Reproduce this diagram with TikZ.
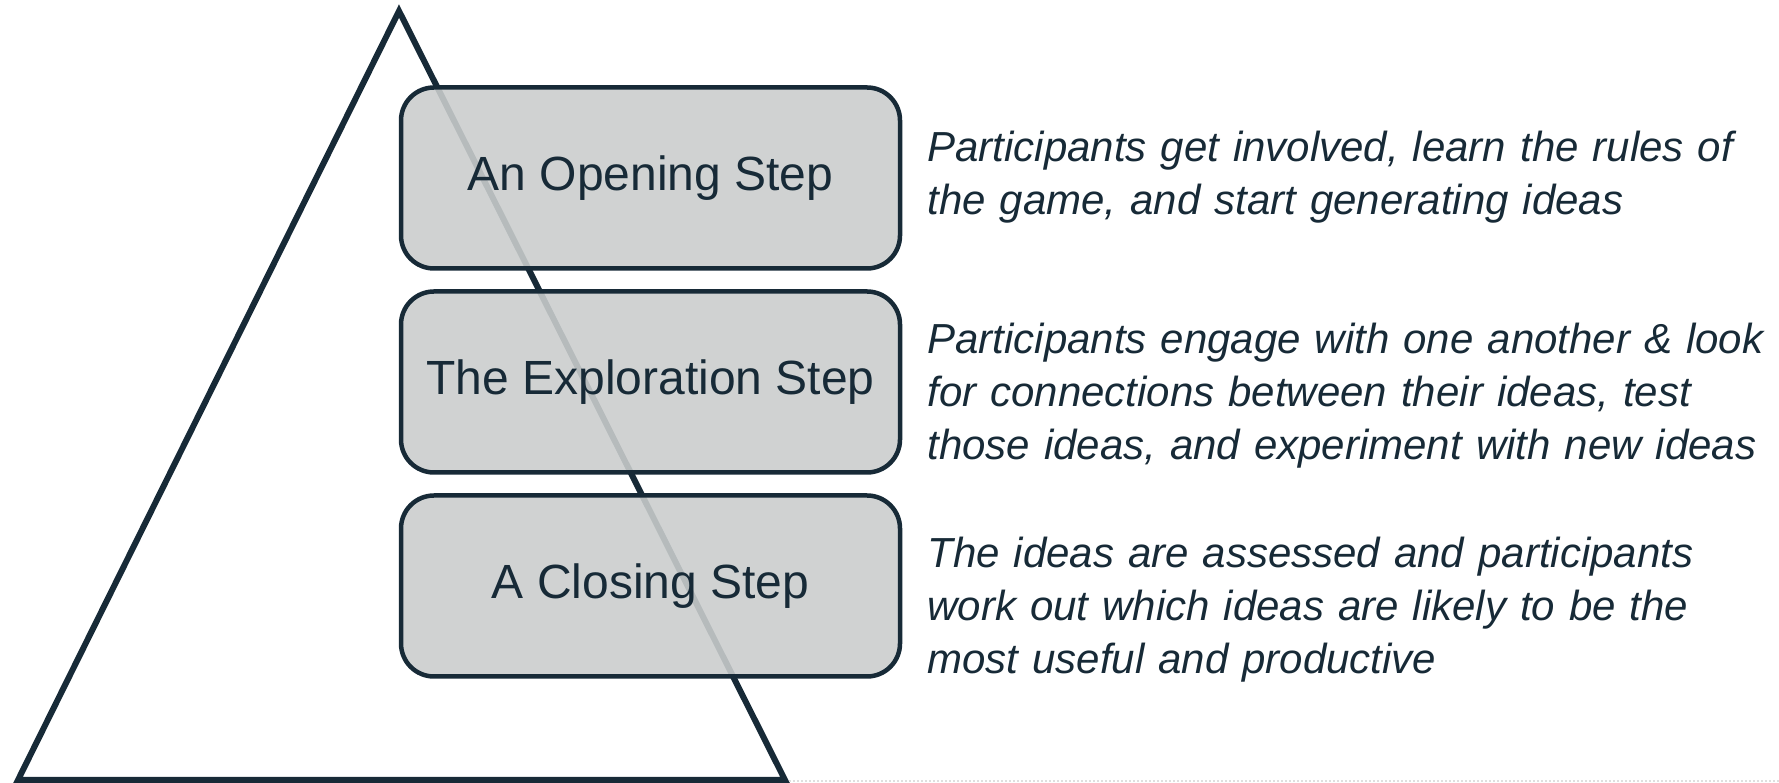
\documentclass[tikz,border=0pt]{standalone}
\usepackage{fontspec}
\setmainfont{Liberation Sans}
\usetikzlibrary{positioning}
\definecolor{inkblue}{HTML}{172A37}
\definecolor{boxgray}{RGB}{202,205,205}

\begin{document}
\begin{tikzpicture}[x=1pt,y=1pt,
    stepbox/.style={draw=inkblue,line width=4.5pt,rounded corners=33pt,
        fill=boxgray,fill opacity=0.89,text opacity=1,text=inkblue,
        minimum width=499pt,minimum height=181pt,
        font=\fontsize{48}{58}\selectfont},
    stepnote/.style={anchor=west,text=inkblue,text width=860pt,align=left,
        inner sep=0pt,font=\fontsize{42}{53}\selectfont\itshape}]
\useasboundingbox (0,0) rectangle (1779,783);

\coordinate (T) at (399,772);
\coordinate (L) at (18,3);
\coordinate (R) at (785,3);

% Funnel
\draw[line width=6pt,draw=inkblue] (L) -- (T) -- (R) -- cycle;
\draw[line width=2pt,dotted,gray!25] (R) ++(4,-1) -- (1779,2);

% Steps
\node[stepbox] (open) at (650.5,605) {An Opening Step};
\node[stepbox,below=18.5pt of open] (explore) {The Exploration Step};
\node[stepbox,below=18.5pt of explore] (close) {A Closing Step};

% Notes
\node[stepnote,right=25pt of open.east,yshift=1pt] (openTxt)
    {Participants get involved, learn the rules of\\the game, and start generating ideas};
\node[stepnote,right=25pt of explore.east,yshift=-14pt] (exploreTxt)
    {Participants engage with one another \& look\\for connections between their ideas, test\\those ideas, and experiment with new ideas};
\node[stepnote,right=25pt of close.east,yshift=-24pt] (closeTxt)
    {The ideas are assessed and participants\\work out which ideas are likely to be the\\most useful and productive};

\end{tikzpicture}
\end{document}
